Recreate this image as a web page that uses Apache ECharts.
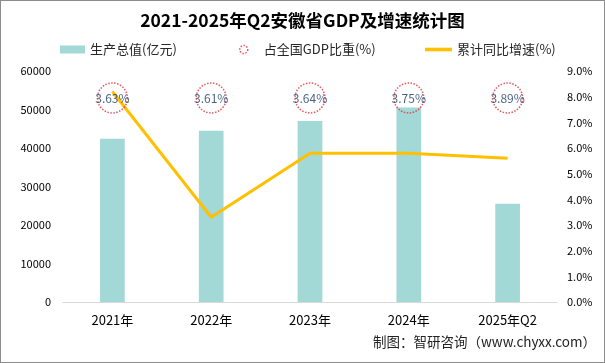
<!DOCTYPE html>
<html><head><meta charset="utf-8">
<script src="https://cdn.jsdelivr.net/npm/echarts@6/dist/echarts.min.js"></script>
<style>
html,body{margin:0;padding:0;background:#fff;}
#c{width:603px;height:361px;border:1px solid #8c8c8c;}
</style></head>
<body><div id="c"></div>
<script>
const categories = ['2021年','2022年','2023年','2024年','2025年Q2'];
const gdpValues = [42400, 44500, 47000, 50500, 25500];
const shareValues = [3.63, 3.61, 3.64, 3.75, 3.89];
const growthValues = [8.2, 3.3, 5.8, 5.8, 5.6];
const leftTicks = {min:0, max:60000, interval:10000};
const rightTicks = {min:0, max:9, interval:1};
const shareRow = ['占全国GDP比重'];

const font = '"Noto Sans CJK SC","Microsoft YaHei",sans-serif';
const legendText = {fontSize:13,color:'#262626',fontFamily:font};
const chart = echarts.init(document.getElementById('c'));
chart.setOption({
  animation:false,
  textStyle:{fontFamily:font},
  title:{text:'2021-2025年Q2安徽省GDP及增速统计图',left:'center',top:6,
    textStyle:{fontSize:17.5,fontWeight:'bold',color:'#000',fontFamily:font}},
  legend:[
    {top:37,left:54,itemWidth:25,itemHeight:8,textStyle:legendText,
      data:[{name:'生产总值(亿元)',icon:'rect'}]},
    {top:37,left:233,itemWidth:30,itemHeight:8,textStyle:legendText,
      data:[{name:'占全国GDP比重(%)',icon:'circle',itemStyle:{color:'#fff',borderColor:'#e0303a',borderType:'dotted',borderWidth:1.5}}]},
    {top:37,left:419,itemWidth:27,itemHeight:8,textStyle:legendText,
      data:[{name:'累计同比增速(%)',icon:'path://M0 0 H30 V4 H0 Z',itemStyle:{color:'#ffc000'}}]}
  ],
  grid:[{left:62,right:47,top:70,bottom:60},{left:62,right:47,top:82,height:30}],
  xAxis:[{type:'category',data:categories,gridIndex:0,
    axisLine:{lineStyle:{color:'#d9d9d9'}},axisTick:{show:false},
    axisLabel:{color:'#000',fontSize:13,margin:12}},
    {type:'category',data:categories,gridIndex:1,show:false}],
  yAxis:[{type:'value',gridIndex:0,min:leftTicks.min,max:leftTicks.max,interval:leftTicks.interval,
      splitLine:{show:false},axisLine:{show:false},axisTick:{show:false},
      axisLabel:{color:'#000',fontSize:11,margin:12,formatter:v=>String(v)}},
    {type:'value',gridIndex:0,min:rightTicks.min,max:rightTicks.max,interval:rightTicks.interval,position:'right',
      splitLine:{show:false},axisLine:{show:false},axisTick:{show:false},
      axisLabel:{color:'#000',fontSize:11,margin:10,formatter:v=>v.toFixed(1)+'%'}},
    {type:'category',gridIndex:1,data:shareRow,show:false}],
  series:[
    {name:'生产总值(亿元)',type:'bar',data:gdpValues,barWidth:'25%',xAxisIndex:0,yAxisIndex:0,
      itemStyle:{color:'#a2d8d6'}},
    {name:'累计同比增速(%)',type:'line',data:growthValues,xAxisIndex:0,yAxisIndex:1,
      symbol:'none',lineStyle:{color:'#ffc000',width:3},itemStyle:{color:'#ffc000'},z:3},
    {name:'占全国GDP比重(%)',type:'scatter',xAxisIndex:1,yAxisIndex:2,
      data:shareValues.map((v,i)=>[categories[i],shareRow[0],v]),
      symbolSize:30,z:5,
      itemStyle:{color:'rgba(255,255,255,0)',borderColor:'#e0303a',borderType:'dotted',borderWidth:1.5},
      label:{show:true,position:'inside',formatter:p=>p.value[2].toFixed(2)+'%',color:'#17375e',fontSize:12,fontFamily:font}}
  ],
  graphic:[{type:'text',right:8,top:334,style:{text:'制图：智研咨询（www.chyxx.com）',fontSize:13.5,fill:'#222',fontFamily:font}}]
});
</script></body></html>
